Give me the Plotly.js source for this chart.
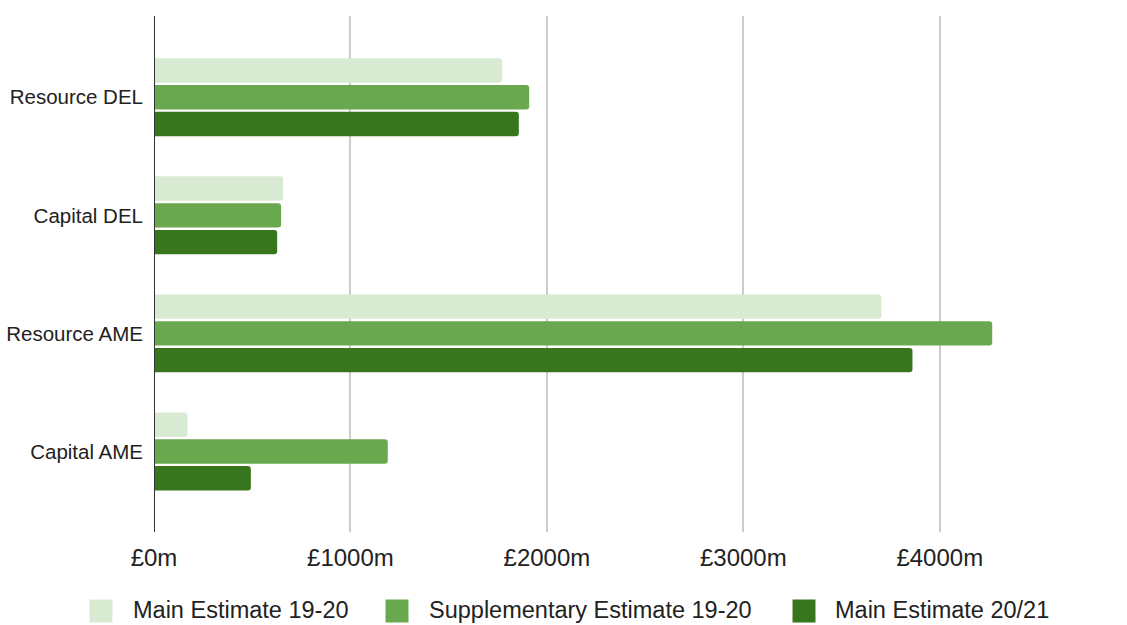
<!DOCTYPE html>
<html>
<head>
<meta charset="utf-8">
<script src="https://cdn.plot.ly/plotly-3.0.1.min.js"></script>
<style>html,body{margin:0;padding:0;background:#fff;}#chart{width:1127px;height:625px;}</style>
</head>
<body>
<div id="chart"></div>
<script>
const categories = ["Resource DEL", "Capital DEL", "Resource AME", "Capital AME"];
const seriesNames = ["Main Estimate 19-20", "Supplementary Estimate 19-20", "Main Estimate 20/21"];
const mainEstimate1920 = [1772, 657, 3703, 170];
const suppEstimate1920 = [1910, 647, 4267, 1190];
const mainEstimate2021 = [1857, 627, 3861, 493];
const tickValues = [0, 1000, 2000, 3000, 4000];
const tickLabels = ["£0m", "£1000m", "£2000m", "£3000m", "£4000m"];
const colors = ["#d9ead3", "#6aa84f", "#38761d"];

const W = 1127, H = 625;
const M = {l: 154, r: 89, t: 16, b: 93};
const plotW = W - M.l - M.r, plotH = H - M.t - M.b;
// paper-coordinate helpers (layout styling only)
const px = x => (x - M.l) / plotW;
const py = y => (H - M.b - y) / plotH;

const seriesValues = [mainEstimate1920, suppEstimate1920, mainEstimate2021];
const traces = seriesValues.map((vals, i) => ({
  type: "bar",
  orientation: "h",
  name: seriesNames[i],
  y: categories,
  x: vals,
  marker: {color: colors[i], cornerradius: 3, line: {width: 0}},
  hoverinfo: "x+y",
  showlegend: false
}));

// custom legend (large swatches like the reference)
const legendSwatchX = [101, 397, 804];
const legendTextX = [131, 427, 833];
const legendY = 611;
const shapes = [{
  type: "line", xref: "x", yref: "paper",
  x0: 0, x1: 0, y0: 0, y1: 1,
  line: {color: "#333333", width: 2}
}];
const annotations = [];
seriesNames.forEach((name, i) => {
  shapes.push({
    type: "rect", xref: "paper", yref: "paper",
    xsizemode: "pixel", ysizemode: "pixel",
    xanchor: px(legendSwatchX[i]), yanchor: py(legendY),
    x0: -11.5, x1: 11.5, y0: -11.5, y1: 11.5,
    fillcolor: colors[i], line: {width: 0}
  });
  annotations.push({
    xref: "paper", yref: "paper",
    x: px(legendTextX[i]), y: py(legendY - 1),
    xanchor: "left", yanchor: "middle",
    text: name, showarrow: false,
    font: {size: 23.5, color: "#222222"}
  });
});

const layout = {
  width: W,
  height: H,
  margin: M,
  paper_bgcolor: "#ffffff",
  plot_bgcolor: "#ffffff",
  barmode: "group",
  bargap: 0.32,
  bargroupgap: 0.09,
  font: {family: "'Liberation Sans', Arial, sans-serif", color: "#222222"},
  xaxis: {
    range: [0, 4500],
    tickvals: tickValues,
    ticktext: tickLabels,
    showgrid: true,
    gridcolor: "#cccccc",
    gridwidth: 2,
    zeroline: false,
    showline: false,
    ticks: "",
    ticklabelstandoff: 9,
    tickfont: {size: 24, color: "#222222"}
  },
  yaxis: {
    type: "category",
    range: [3.682, -0.688],
    showgrid: false,
    zeroline: false,
    showline: false,
    ticks: "",
    ticklabelstandoff: 10,
    tickfont: {size: 20.5, color: "#222222"}
  },
  shapes: shapes,
  annotations: annotations,
  showlegend: false
};

Plotly.newPlot("chart", traces, layout, {displayModeBar: false, staticPlot: true});
</script>
</body>
</html>
